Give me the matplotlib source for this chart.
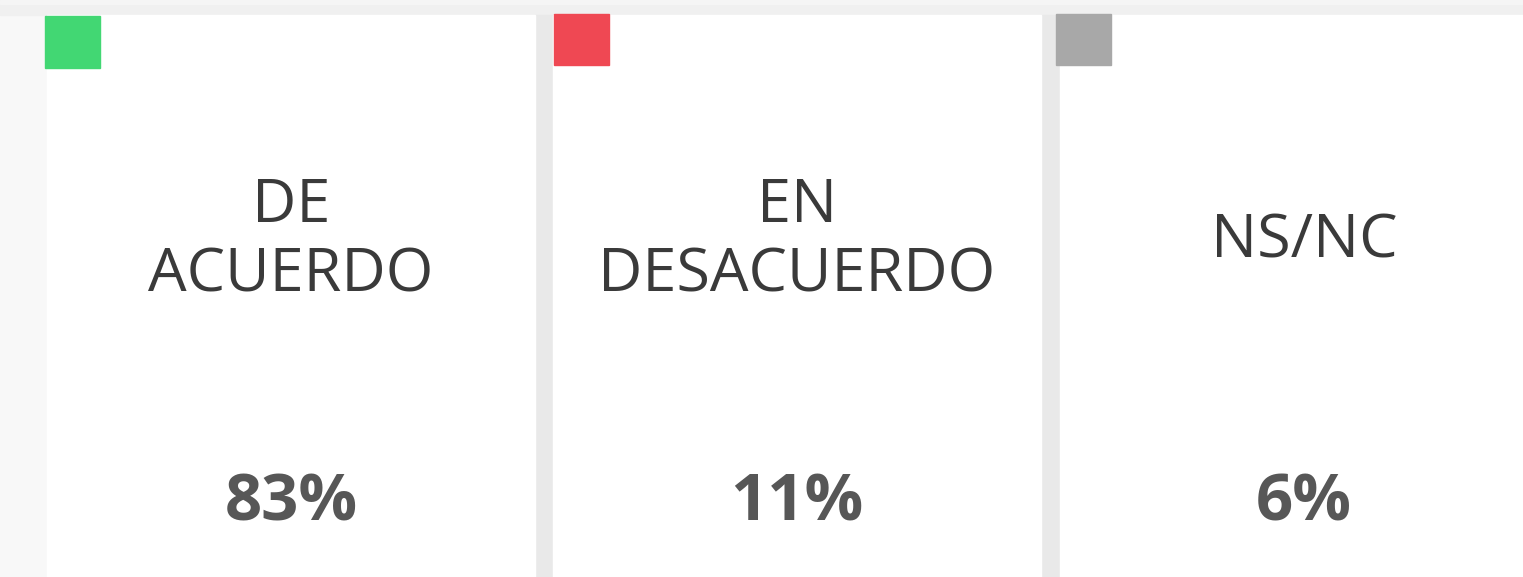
import matplotlib
matplotlib.use("Agg")
import matplotlib.pyplot as plt
from matplotlib.patches import Rectangle

# Survey answer cards
categories = ["DE\nACUERDO", "EN\nDESACUERDO", "NS/NC"]
values = [83, 11, 6]
colors = ["#42d773", "#ef4853", "#a8a8a8"]

W, H = 1523, 577
fig = plt.figure(figsize=(W / 100, H / 100), dpi=100)
ax = fig.add_axes([0, 0, 1, 1])
ax.set_xlim(0, W)
ax.set_ylim(H, 0)
ax.axis("off")

# background / shadows
ax.add_patch(Rectangle((0, 0), W, H, color="#f8f8f8", zorder=0))
ax.add_patch(Rectangle((0, 0), W, 15, color="#f0f0f0", zorder=0))
ax.add_patch(Rectangle((0, 0), W, 4, color="#f5f5f5", zorder=0))

card_x = [47, 553, 1060]
card_w = 488
sq_x = [45, 554, 1056]
sq_y = [16, 14, 14]
for i, (cat, val, col) in enumerate(zip(categories, values, colors)):
    x0 = card_x[i]
    # soft shadow on the left of each card
    if i > 0:
        ax.add_patch(Rectangle((x0 - 18, 15), 18, H, color="#e9e9e9", zorder=1))
    ax.add_patch(Rectangle((x0, 15), card_w, H, color="white", zorder=2))
    ax.add_patch(Rectangle((sq_x[i], sq_y[i]), 55, 52 if i == 0 else 51,
                           color=col, zorder=3))
    cx = x0 + card_w / 2
    ax.text(cx, 241, cat, ha="center", va="center", multialignment="center",
            fontsize=44, family="Open Sans", color="#3a3a3a", linespacing=1.2,
            zorder=4)
    ax.text(cx, 504, f"{val}%", ha="center", va="center", fontsize=47,
            family="Open Sans", fontweight="bold", color="#575757", zorder=4)

fig.savefig("out.png", dpi=100)
